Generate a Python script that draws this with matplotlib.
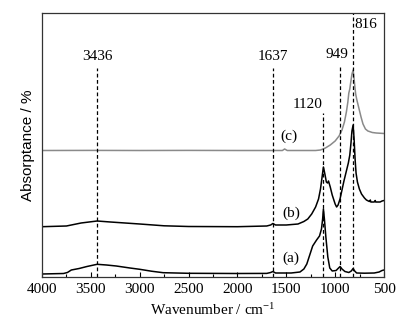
import matplotlib
matplotlib.use("Agg")
import matplotlib.pyplot as plt
from matplotlib.ticker import MultipleLocator

plt.rcParams["font.family"] = ["Liberation Serif", "DejaVu Serif"]
plt.rcParams["mathtext.fontset"] = "custom"
plt.rcParams["mathtext.rm"] = "Liberation Serif"
plt.rcParams["mathtext.it"] = "Liberation Serif:italic"

# FTIR spectra (wavenumber in cm^-1, stacked absorptance in arbitrary units)
wn_a = [4000, 3780, 3740, 3700, 3620, 3540, 3436, 3340, 3240, 3100, 3000, 2880,
        2760, 2500, 2000, 1700, 1660, 1637, 1610, 1450, 1360, 1320, 1290, 1260,
        1230, 1190, 1160, 1140, 1128, 1120, 1110, 1095, 1075, 1055, 1030, 990,
        965, 949, 930, 900, 860, 835, 816, 800, 780, 700, 600, 550, 520, 500]
ab_a = [3, 3.5, 4.5, 7, 8.5, 10.5, 12.7, 12, 11, 9, 7.7, 5.8,
        4.3, 3.7, 3.5, 3.6, 4.5, 5.5, 4, 4, 5, 8, 13, 22,
        31, 37, 41, 48, 58, 68, 58, 40, 20, 9, 6, 6.5,
        9, 10.5, 8, 5.5, 4.5, 6, 8.5, 6, 4, 3.8, 4, 5, 6.5, 7]

wn_b = [4000, 3750, 3700, 3600, 3436, 3300, 3000, 2750, 2500, 2000, 1700, 1660,
        1637, 1610, 1500, 1380, 1320, 1280, 1240, 1200, 1170, 1150, 1135, 1120,
        1105, 1090, 1078, 1068, 1050, 1030, 1000, 985, 970, 950, 930, 910, 895,
        880, 865, 850, 838, 828, 816, 806, 796, 786, 772, 752, 730, 700, 680,
        650, 640, 635, 600, 590, 585, 540, 520, 500]
ab_b = [50.3, 51, 52, 54, 56, 55, 53, 51.2, 50.5, 50.3, 51, 52,
        53.5, 52, 52, 53, 55.5, 58, 63, 70, 78, 88, 99, 110,
        103, 95, 94, 96, 90, 82, 73, 70, 72, 78, 87, 96, 102,
        108, 114, 122, 134, 146, 152, 138, 118, 104, 95, 88, 83, 79, 77,
        75.5, 77, 75, 75, 76.5, 75, 75, 76, 76.5]

wn_c = [4000, 3500, 3000, 2500, 2000, 1540, 1517, 1490, 1200, 1150, 1100, 1050,
        1000, 960, 930, 905, 885, 870, 860, 850, 840, 828, 816, 808, 800, 790,
        780, 765, 750, 735, 715, 690, 665, 620, 579, 500]
ab_c = [126.5, 126.6, 126.5, 126.6, 126.5, 126.5, 128, 126.5, 126.5, 127, 129, 132,
        136, 141, 147, 155, 165, 175, 184, 188, 195, 203, 207, 200, 192, 183,
        178, 172, 166, 160, 153, 148, 146, 144.5, 144, 143.5]

# Band positions marked with dashed guides, and how far up each guide reaches
bands = [3436, 1637, 1120, 949, 816]
band_tops = [209, 209, 164, 212, 264]
band_label_y = [221, 221, 172, 222, 252]

curve_labels = ["(a)", "(b)", "(c)"]
curve_label_x = [1450, 1450, 1470]
curve_label_y = [19, 64, 141]

fig = plt.figure(figsize=(4.08, 3.26), dpi=100)
ax = fig.add_axes([42 / 408, 49 / 326, 342 / 408, 264 / 326])

ax.plot(wn_a, ab_a, color="black", lw=1.1)
ax.plot(wn_b, ab_b, color="black", lw=1.1)
ax.plot(wn_c, ab_c, color="#8a8a8a", lw=1.1)

for x, top in zip(bands, band_tops):
    ax.plot([x, x], [0, top], color="black", lw=0.9, ls=(0, (3, 2)))

fs = 11
ax.text(3436, band_label_y[0], "3436", ha="center", va="center", fontsize=fs)
ax.text(1637, band_label_y[1], "1637", ha="center", va="center", fontsize=fs)
ax.text(1120 + 10, band_label_y[2], "1120", ha="right", va="center", fontsize=fs)
ax.text(985, band_label_y[3], "949", ha="center", va="center", fontsize=fs)
ax.text(800, band_label_y[4], "816", ha="left", va="center", fontsize=fs)

for t, x, y in zip(curve_labels, curve_label_x, curve_label_y):
    ax.text(x, y, t, ha="center", va="center", fontsize=fs)

ax.set_xlim(4000, 500)
ax.set_ylim(0, 264)
ax.xaxis.set_major_locator(MultipleLocator(500))
ax.xaxis.set_minor_locator(MultipleLocator(250))
ax.tick_params(axis="x", which="major", direction="in", length=3.8, width=0.8,
               labelsize=fs, pad=4.5)
ax.tick_params(axis="x", which="minor", direction="in", length=2.2, width=0.8)
ax.tick_params(axis="y", left=False, labelleft=False)

for s in ax.spines.values():
    s.set_linewidth(0.9)
    s.set_color("#333333")

ax.set_xlabel("Wavenumber / cm$^{-1}$", fontsize=fs, labelpad=4)
ax.set_ylabel("Absorptance / %", fontsize=fs, family=["Liberation Sans", "DejaVu Sans"],
              labelpad=5)

fig.savefig("out.png", dpi=100)
